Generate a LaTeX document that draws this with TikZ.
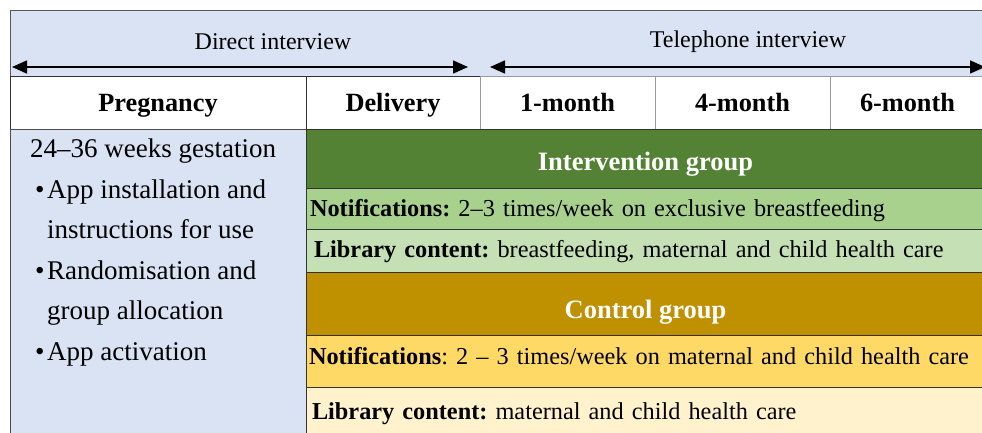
\documentclass[tikz,border=0pt]{standalone}
\usepackage{fontspec}
\setmainfont{Liberation Serif}
\usetikzlibrary{positioning,arrows.meta}
\definecolor{bandblue}{HTML}{DAE3F3}
\definecolor{intdark}{HTML}{548235}
\definecolor{intmid}{HTML}{A9D18E}
\definecolor{intlight}{HTML}{C5E0B4}
\definecolor{ctldark}{HTML}{BF9000}
\definecolor{ctlmid}{HTML}{FFD966}
\definecolor{ctllight}{HTML}{FFF2CC}
\frenchspacing

\begin{document}
\begin{tikzpicture}[x=1pt,y=-1pt,
  cell/.style={draw=black!80, line width=0.9pt, inner sep=0pt, outer sep=0pt, anchor=north west},
  headcell/.style={cell, fill=white, minimum height=53pt, text height=24pt, text depth=5pt,
    font=\fontsize{26.3}{30}\selectfont\bfseries},
  groupcell/.style={cell, minimum width=679pt, text=white, text depth=5pt,
    font=\fontsize{26.5}{30}\selectfont\bfseries},
  rowcell/.style={cell, minimum width=679pt, text width=700pt, align=left, text depth=5pt,
    font=\fontsize{24.3}{28}\selectfont},
  span/.style={<->, >={Triangle[length=15pt,width=13pt]}, line width=1.6pt}]
\path[use as bounding box, clip] (0,0) rectangle (982,433);

%bandeau entretiens
\node[cell, draw=black!65, fill=bandblue, minimum width=975pt, minimum height=66pt] (band) at (10,10) {};
\node[font=\fontsize{24}{28}\selectfont] (direct) at (273,42) {Direct interview};
\node[font=\fontsize{24}{28}\selectfont] (phone) at (748,42) {Telephone interview};
\coordinate (d1) at (12,67);
\coordinate (d2) at (468,67);
\coordinate (t1) at (490,67);
\coordinate (t2) at (985,67);
\draw[span] (d1) -- (d2);
\draw[span] (t1) -- (t2);

%ligne des periodes
\node[headcell, minimum width=296pt] (preg) at (10,76) {Pregnancy};
\node[headcell, minimum width=174pt, right=0pt of preg] (deliv) {Delivery};
\node[headcell, draw=black!40, minimum width=175pt, right=0pt of deliv] (m1) {1-month};
\node[headcell, draw=black!40, minimum width=175pt, right=0pt of m1] (m4) {4-month};
\node[headcell, draw=black!40, minimum width=155pt, right=0pt of m4] (m6) {6-month};

%grossesse
\node[cell, draw=black!70, fill=bandblue, minimum width=296pt, minimum height=320pt] (pregbox) at (10,129) {};
\node[anchor=north west, align=left, inner sep=0pt, font=\fontsize{27}{40.5}\selectfont] (pregtext) at (30,139)
  {24--36 weeks gestation\\
   \hspace*{5pt}\makebox[12pt][l]{\textbullet}App installation and\\
   \hspace*{17pt}instructions for use\\
   \hspace*{5pt}\makebox[12pt][l]{\textbullet}Randomisation and\\
   \hspace*{17pt}group allocation\\
   \hspace*{5pt}\makebox[12pt][l]{\textbullet}App activation};

%groupe intervention
\node[groupcell, fill=intdark, minimum height=59pt, text height=28pt] (inthead) at (306,129) {Intervention group};
\node[rowcell, fill=intmid, minimum height=41pt, text height=20pt, inner xsep=4pt] (intnotif) at (306,188)
  {\textbf{Notifications:} 2--3 times/week on exclusive breastfeeding};
\node[rowcell, fill=intlight, minimum height=43pt, text height=18pt, inner xsep=8pt] (intlib) at (306,229)
  {\textbf{Library content:} breastfeeding, maternal and child health care};

%groupe controle
\node[groupcell, fill=ctldark, minimum height=63pt, text height=34pt] (ctlhead) at (306,272) {Control group};
\node[rowcell, fill=ctlmid, minimum height=52pt, text height=12pt, inner xsep=3pt] (ctlnotif) at (306,335)
  {\textbf{Notifications}: 2 -- 3 times/week on maternal and child health care};
\node[rowcell, fill=ctllight, minimum height=48pt, text height=21pt, inner xsep=6pt] (ctllib) at (306,387)
  {\textbf{Library content:} maternal and child health care};
\end{tikzpicture}
\end{document}
